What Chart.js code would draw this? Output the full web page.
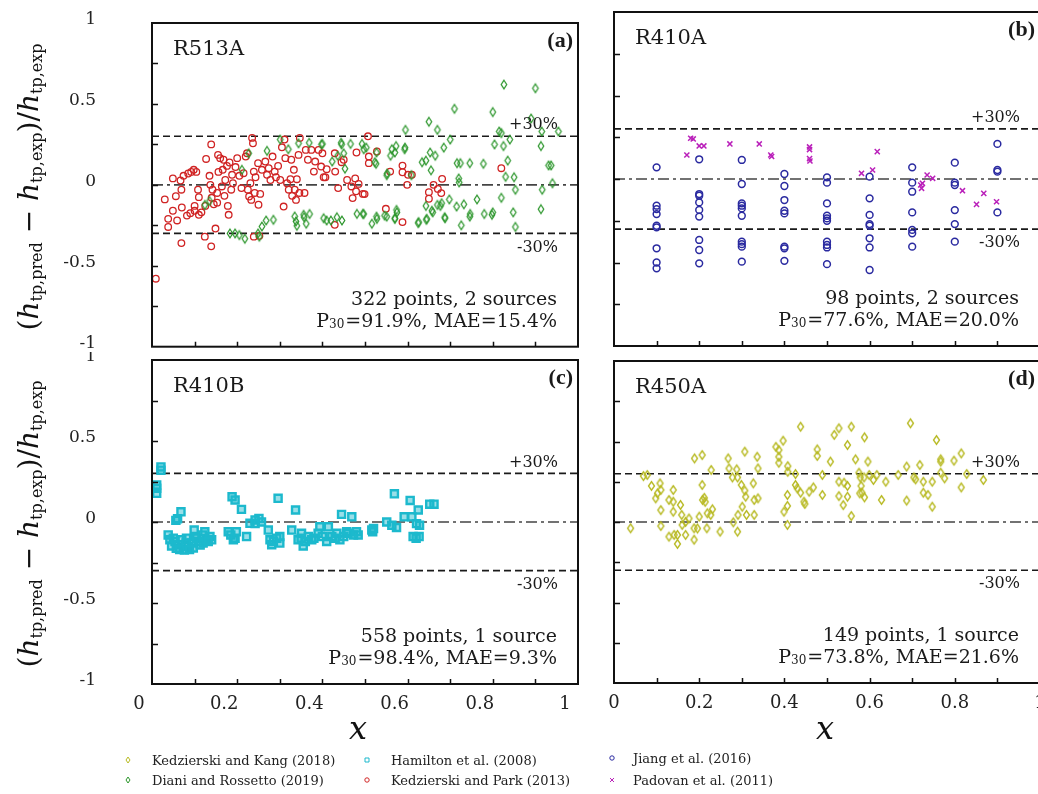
<!DOCTYPE html>
<html>
<head>
<meta charset="utf-8">
<script src="https://cdn.jsdelivr.net/npm/chart.js@4.4.1/dist/chart.umd.min.js"></script>
<style>
  html, body { margin: 0; padding: 0; background: #fff; overflow: hidden; }
  #wrap { position: relative; width: 1038px; height: 794px; overflow: hidden; background: #fff; }
  canvas.panel { position: absolute; }
  .ytitle {
    position: absolute; white-space: nowrap; color: #111;
    font-family: "DejaVu Serif", serif; font-size: 28px; line-height: 1;
    transform: translate(-50%, -50%) rotate(-90deg);
  }
  .ytitle i { font-style: italic; }
  .ytitle sub { font-size: 16px; font-style: normal; vertical-align: -0.3em; }
  .xtitle {
    position: absolute; transform: translate(-50%, -50%);
    font-family: "DejaVu Serif", serif; font-style: italic; font-size: 32px; color: #111;
  }
  .leg { position: absolute; font-family: "DejaVu Serif", serif; font-size: 13px; color: #222;
         white-space: nowrap; transform: translateY(-50%); }
  .legmark { position: absolute; transform: translate(-50%, -50%); }
</style>
</head>
<body>
<div id="wrap">
  <canvas id="pa" class="panel" width="548" height="352" style="left:40px;top:0px"></canvas>
  <canvas id="pb" class="panel" width="460" height="352" style="left:590px;top:0px"></canvas>
  <canvas id="pc" class="panel" width="548" height="390" style="left:40px;top:352px"></canvas>
  <canvas id="pd" class="panel" width="460" height="390" style="left:590px;top:352px"></canvas>

  <div class="ytitle" style="left:30px;top:187px">(<i>h</i><sub>tp,pred</sub> − <i>h</i><sub>tp,exp</sub>)/<i>h</i><sub>tp,exp</sub></div>
  <div class="ytitle" style="left:30px;top:524px">(<i>h</i><sub>tp,pred</sub> − <i>h</i><sub>tp,exp</sub>)/<i>h</i><sub>tp,exp</sub></div>
  <div class="xtitle" style="left:358px;top:728px">x</div>
  <div class="xtitle" style="left:825px;top:728px">x</div>
  <div id="legend"></div>
</div>

<script>
// ---------- data: [x, relative deviation] ----------
// R513A, Kedzierski and Park (2013)
const kedzierskiPark2013 = [
  [0.009,-0.58],[0.03,-0.09],[0.038,-0.21],[0.038,-0.26],[0.049,0.04],[0.049,-0.16],[0.056,-0.07],[0.059,-0.22],
  [0.067,0.027],[0.069,-0.36],[0.069,-0.03],[0.07,-0.14],[0.074,0.056],[0.082,-0.19],[0.085,0.07],[0.09,-0.175],
  [0.092,0.08],[0.098,0.093],[0.1,-0.13],[0.1,-0.16],[0.104,0.08],[0.108,-0.03],[0.11,-0.076],[0.11,-0.185],
  [0.116,-0.17],[0.124,-0.32],[0.125,-0.13],[0.127,0.16],[0.135,0.056],[0.137,0.0],[0.139,0.25],[0.139,-0.38],
  [0.14,-0.08],[0.142,-0.03],[0.145,-0.12],[0.149,-0.27],[0.153,-0.05],[0.153,-0.11],[0.155,0.185],[0.156,0.08],
  [0.16,0.165],[0.164,-0.01],[0.166,0.093],[0.168,0.155],[0.17,-0.068],[0.172,0.03],[0.176,0.117],[0.178,-0.13],
  [0.18,-0.185],[0.182,0.138],[0.186,-0.03],[0.188,0.062],[0.19,0.01],[0.196,0.11],[0.2,0.165],[0.205,0.056],
  [0.21,-0.02],[0.215,0.072],[0.22,0.175],[0.223,0.195],[0.225,-0.03],[0.228,-0.072],[0.231,0.01],[0.233,-0.093],
  [0.235,0.29],[0.237,0.257],[0.239,-0.32],[0.239,0.082],[0.241,-0.05],[0.243,0.047],[0.249,0.134],[0.25,-0.123],
  [0.252,-0.315],[0.254,-0.056],[0.258,0.093],[0.266,0.144],[0.27,0.062],[0.274,0.103],[0.278,0.03],[0.283,0.175],
  [0.288,0.082],[0.291,0.047],[0.296,0.117],[0.301,0.03],[0.305,0.232],[0.309,-0.134],[0.311,0.28],[0.313,0.165],
  [0.317,0.01],[0.321,-0.03],[0.325,0.035],[0.327,0.155],[0.329,-0.068],[0.333,0.093],[0.335,-0.03],[0.338,-0.093],
  [0.34,0.035],[0.344,0.185],[0.346,-0.05],[0.347,0.29],[0.358,-0.05],[0.361,0.216],[0.366,0.155],[0.374,0.216],
  [0.38,0.082],[0.383,0.144],[0.391,0.216],[0.397,0.113],[0.4,0.195],[0.403,0.047],[0.407,0.047],[0.41,0.097],
  [0.429,0.195],[0.429,-0.247],[0.43,0.082],[0.437,-0.02],[0.445,0.14],[0.45,0.155],[0.458,0.03],[0.468,-0.01],
  [0.471,-0.082],[0.477,0.04],[0.479,-0.04],[0.48,0.2],[0.485,0.006],[0.495,-0.056],[0.507,0.3],[0.528,0.206],
  [0.509,0.175],[0.509,0.134],[0.499,-0.057],[0.559,0.082],[0.588,0.119],[0.588,0.078],[0.601,0.062],[0.61,0.062],
  [0.599,0.0],[0.549,-0.148],[0.588,-0.23],[0.681,0.037],[0.661,0.0],[0.671,-0.025],[0.65,-0.045],[0.679,-0.051],
  [0.65,-0.086],[0.82,0.103]
];
// R513A, Diani and Rossetto (2019)
const dianiRossetto2019 = [
  [0.124,-0.124],[0.135,-0.1],[0.183,-0.3],[0.195,-0.3],[0.205,-0.31],[0.218,-0.333],[0.249,-0.3],[0.252,-0.32],
  [0.258,-0.257],[0.268,-0.22],[0.285,-0.216],[0.211,0.093],[0.227,0.195],[0.27,0.21],[0.301,0.28],[0.32,0.22],
  [0.335,-0.195],[0.338,-0.226],[0.34,-0.253],[0.356,-0.185],[0.344,0.257],[0.369,0.26],[0.4,0.253],[0.403,-0.206],
  [0.423,0.144],[0.434,-0.2],[0.444,0.26],[0.446,-0.22],[0.45,0.195],[0.466,0.253],[0.481,-0.179],[0.495,-0.179],
  [0.493,0.253],[0.497,-0.18],[0.497,0.22],[0.516,-0.24],[0.528,-0.21],[0.546,-0.19],[0.526,0.13],[0.552,0.07],
  [0.57,0.2],[0.563,0.22],[0.593,0.22],[0.575,-0.17],[0.57,-0.21],[0.595,0.34],[0.594,0.23],[0.626,-0.23],
  [0.643,-0.13],[0.645,-0.21],[0.657,-0.16],[0.677,-0.13],[0.687,-0.2],[0.634,0.14],[0.643,0.15],[0.655,0.09],
  [0.653,0.2],[0.65,0.39],[0.665,0.18],[0.67,0.34],[0.685,0.23],[0.7,0.28],[0.698,-0.09],[0.71,0.47],
  [0.716,0.134],[0.724,0.134],[0.746,0.134],[0.72,0.04],[0.721,0.015],[0.732,-0.12],[0.726,-0.25],[0.747,-0.18],
  [0.763,-0.09],[0.778,0.13],[0.78,-0.18],[0.8,0.45],[0.8,-0.17],[0.804,0.25],[0.815,0.33],[0.82,0.32],
  [0.825,0.24],[0.82,-0.08],[0.826,0.62],[0.835,0.15],[0.84,0.28],[0.83,0.05],[0.85,0.047],[0.853,-0.03],
  [0.853,-0.26],[0.89,0.41],[0.9,0.597],[0.913,-0.15],[0.913,0.24],[0.915,0.33],[0.916,-0.03],[0.931,0.12],
  [0.937,0.12],[0.94,0.01],[0.954,0.33],[0.848,-0.17],[0.798,-0.185],[0.746,-0.196],[0.715,-0.134],[0.688,-0.206],
  [0.67,-0.124],[0.68,-0.113],[0.659,-0.17],[0.644,-0.216],[0.625,-0.236],[0.57,-0.206],[0.574,-0.155],[0.551,-0.196],
  [0.527,-0.196],[0.573,0.24],[0.56,0.18],[0.551,0.06],[0.609,0.06],[0.523,0.14],[0.527,0.2],[0.503,0.23],
  [0.445,0.25],[0.453,0.1],[0.436,0.18],[0.398,0.25],[0.357,-0.2],[0.362,-0.24],[0.37,-0.18],[0.41,-0.22],[0.42,-0.22]
];
// R410A, Jiang et al. (2016)
const jiang2016 = [
  [0.1,0.07],[0.1,-0.16],[0.1,-0.18],[0.1,-0.21],[0.1,-0.28],[0.1,-0.29],[0.1,-0.415],[0.1,-0.5],[0.1,-0.535],
  [0.2,0.118],[0.2,-0.09],[0.2,-0.1],[0.2,-0.14],[0.2,-0.185],[0.2,-0.225],[0.2,-0.365],[0.2,-0.425],[0.2,-0.505],
  [0.3,0.114],[0.3,-0.03],[0.3,-0.146],[0.3,-0.16],[0.3,-0.176],[0.3,-0.22],[0.3,-0.375],[0.3,-0.39],[0.3,-0.405],[0.3,-0.495],
  [0.4,0.03],[0.4,-0.042],[0.4,-0.126],[0.4,-0.19],[0.4,-0.206],[0.4,-0.405],[0.4,-0.415],[0.4,-0.49],
  [0.5,0.01],[0.5,-0.022],[0.5,-0.146],[0.5,-0.22],[0.5,-0.236],[0.5,-0.25],[0.5,-0.375],[0.5,-0.395],[0.5,-0.41],[0.5,-0.51],
  [0.6,0.014],[0.6,-0.116],[0.6,-0.215],[0.6,-0.27],[0.6,-0.28],[0.6,-0.355],[0.6,-0.41],[0.6,-0.545],
  [0.7,0.07],[0.7,-0.022],[0.7,-0.076],[0.7,-0.2],[0.7,-0.305],[0.7,-0.325],[0.7,-0.405],
  [0.8,0.098],[0.8,-0.022],[0.8,-0.036],[0.8,-0.186],[0.8,-0.27],[0.8,-0.375],
  [0.9,0.21],[0.9,0.054],[0.9,0.044],[0.9,-0.2]
];
// R410A, Padovan et al. (2011)
const padovan2011 = [
  [0.171,0.144],[0.18,0.244],[0.186,0.24],[0.2,0.198],[0.211,0.198],[0.272,0.21],[0.341,0.21],[0.368,0.144],
  [0.37,0.135],[0.459,0.192],[0.459,0.176],[0.459,0.122],[0.46,0.108],[0.581,0.034],[0.607,0.054],[0.618,0.164],
  [0.72,-0.036],[0.722,-0.056],[0.724,-0.026],[0.735,0.024],[0.748,0.004],[0.818,-0.07],[0.851,-0.152],
  [0.868,-0.086],[0.898,-0.136]
];
// R410B, Hamilton et al. (2008)
const hamilton2008 = [
  [0.021,0.34],[0.021,0.32],[0.011,0.228],[0.011,0.208],[0.011,0.177],[0.038,-0.08],[0.042,-0.11],[0.046,-0.148],
  [0.054,-0.12],[0.057,-0.162],[0.056,0.01],[0.068,0.063],[0.07,-0.11],[0.076,-0.173],[0.081,-0.1],[0.085,-0.15],
  [0.093,-0.13],[0.097,-0.16],[0.099,-0.05],[0.101,-0.09],[0.109,-0.12],[0.113,-0.142],[0.124,-0.06],[0.128,-0.11],
  [0.136,-0.09],[0.14,-0.11],[0.179,-0.06],[0.188,0.156],[0.191,-0.11],[0.195,0.136],[0.198,-0.06],[0.21,0.078],
  [0.222,-0.09],[0.23,-0.008],[0.242,0.012],[0.251,0.022],[0.257,0.0],[0.273,-0.05],[0.277,-0.11],[0.281,-0.14],
  [0.293,-0.1],[0.296,0.146],[0.3,-0.09],[0.328,-0.05],[0.337,0.074],[0.343,-0.11],[0.351,-0.07],[0.355,-0.148],
  [0.367,-0.09],[0.375,-0.11],[0.39,-0.07],[0.394,-0.03],[0.41,-0.12],[0.414,-0.03],[0.422,-0.09],[0.434,-0.07],
  [0.441,-0.11],[0.445,0.047],[0.457,-0.06],[0.469,0.032],[0.473,-0.08],[0.484,-0.08],[0.516,-0.05],[0.52,-0.04],
  [0.551,0.0],[0.569,0.174],[0.563,-0.02],[0.574,-0.034],[0.592,0.032],[0.606,0.133],[0.61,0.032],[0.613,-0.09],
  [0.621,-0.01],[0.625,0.074],[0.627,-0.09],[0.628,-0.02],[0.652,0.11],[0.662,0.11],
  [0.05,-0.1],[0.062,-0.14],[0.065,-0.17],[0.08,-0.13],[0.088,-0.17],[0.105,-0.1],[0.118,-0.08],[0.12,-0.13],
  [0.132,-0.12],[0.185,-0.08],[0.195,-0.1],[0.3,-0.13],[0.285,-0.12],[0.35,-0.1],[0.36,-0.12],[0.38,-0.1],
  [0.4,-0.09],[0.43,-0.1],[0.46,-0.07],[0.48,-0.06],[0.45,-0.09],[0.518,-0.06],[0.242,-0.01],[0.62,-0.1],[0.06,0.02]
];
// R450A, Kedzierski and Kang (2018)
const kedzierskiKang2018 = [
  [0.039,-0.039],[0.069,0.285],[0.078,0.292],[0.088,0.224],[0.098,0.147],[0.102,0.178],[0.108,0.24],[0.11,0.199],
  [0.11,0.074],[0.11,-0.025],[0.129,0.137],[0.129,-0.091],[0.139,0.199],[0.139,0.126],[0.139,0.064],[0.141,-0.08],
  [0.149,-0.136],[0.149,-0.08],[0.156,0.106],[0.159,0.044],[0.16,-0.018],[0.168,-0.08],[0.168,0.0],[0.176,0.022],
  [0.188,-0.11],[0.188,-0.039],[0.189,0.395],[0.196,-0.04],[0.2,0.033],[0.207,0.416],[0.207,0.23],[0.208,0.137],
  [0.212,0.15],[0.214,0.125],[0.218,-0.039],[0.219,0.054],[0.227,0.044],[0.228,0.323],[0.231,0.079],[0.249,-0.06],
  [0.268,0.395],[0.27,0.333],[0.278,0.277],[0.28,-0.002],[0.288,0.327],[0.29,0.277],[0.29,-0.06],[0.291,0.044],
  [0.299,0.23],[0.301,0.095],[0.307,0.195],[0.307,0.437],[0.309,0.157],[0.311,0.044],[0.327,0.24],[0.329,0.137],
  [0.329,0.044],[0.336,0.405],[0.338,0.333],[0.338,0.147],[0.38,0.467],[0.387,0.447],[0.387,0.405],[0.387,0.368],
  [0.397,0.505],[0.399,0.064],[0.407,-0.018],[0.407,0.168],[0.407,0.1],[0.408,0.347],[0.408,0.312],[0.426,0.298],
  [0.426,0.23],[0.43,0.21],[0.438,0.592],[0.438,0.182],[0.446,0.126],[0.448,0.112],[0.458,0.188],[0.468,0.215],
  [0.477,0.451],[0.477,0.41],[0.489,0.292],[0.489,0.168],[0.508,0.375],[0.517,0.541],[0.528,0.582],[0.557,0.592],
  [0.548,0.478],[0.588,0.526],[0.567,0.389],[0.596,0.375],[0.528,0.25],[0.54,0.244],[0.548,0.224],[0.528,0.161],
  [0.548,0.157],[0.538,0.105],[0.557,0.037],[0.575,0.306],[0.578,0.277],[0.58,0.224],[0.582,0.182],[0.577,0.178],
  [0.588,0.153],[0.587,0.277],[0.599,0.292],[0.609,0.261],[0.617,0.292],[0.638,0.25],[0.628,0.137],[0.667,0.292],
  [0.687,0.344],[0.687,0.133],[0.696,0.613],[0.704,0.277],[0.708,0.265],[0.718,0.354],[0.726,0.25],[0.726,0.182],
  [0.737,0.168],[0.747,0.25],[0.747,0.095],[0.757,0.509],[0.767,0.389],[0.767,0.375],[0.767,0.306],[0.776,0.271],
  [0.798,0.381],[0.815,0.426],[0.815,0.215],[0.828,0.298],[0.867,0.261]
];

// axis ticks and reference bands
const xTickValues = [0, 0.2, 0.4, 0.6, 0.8, 1];
const yTickValues = [-1, -0.5, 0, 0.5, 1];
const bandLimit = 0.3;

// ---------- marker glyphs ----------
const COL = {
  kang: 'rgb(184,186,36)', diani: 'rgb(44,150,44)', hamilton: 'rgb(28,185,205)',
  park: 'rgb(208,36,36)', jiang: 'rgb(42,42,160)', padovan: 'rgb(186,32,186)'
};
function thinDiamond(color, w, h, lw) {
  const c = document.createElement('canvas');
  c.width = Math.ceil(w + lw * 2 + 2); c.height = Math.ceil(h + lw * 2 + 2);
  const g = c.getContext('2d');
  const cx = c.width / 2, cy = c.height / 2;
  g.strokeStyle = color; g.lineWidth = lw; g.lineJoin = 'miter';
  g.beginPath();
  g.moveTo(cx, cy - h / 2); g.lineTo(cx + w / 2, cy); g.lineTo(cx, cy + h / 2); g.lineTo(cx - w / 2, cy);
  g.closePath(); g.stroke();
  return c;
}
const diamondGreen = thinDiamond(COL.diani, 5.5, 8.5, 1.25);
const diamondYellow = thinDiamond(COL.kang, 6, 8.5, 1.35);

const pts = arr => arr.map(([x, y]) => ({ x, y }));

function refLines() {
  const line = (y, dash, color) => ({
    data: [{ x: 0, y }, { x: 1, y }], showLine: true, pointRadius: 0,
    borderColor: color, borderWidth: 1.6, borderDash: dash, order: 20
  });
  return [line(bandLimit, [7, 4], '#1a1a1a'), line(-bandLimit, [7, 4], '#1a1a1a'), line(0, [11, 4, 3, 4], '#444')];
}

const fmtNum = v => String(parseFloat(v.toFixed(2)));
const isIn = (v, list) => list.some(t => Math.abs(t - v) < 1e-6);

// frame, inward ticks and panel annotations
const panelDecor = {
  id: 'panelDecor',
  afterDraw(chart, args, o) {
    const { ctx, chartArea: a } = chart;
    const xs = chart.scales.x, ys = chart.scales.y;
    ctx.save();
    ctx.strokeStyle = '#111';
    ctx.lineWidth = 1.5;
    ctx.beginPath();
    xs.ticks.forEach(t => {
      const p = Math.round(xs.getPixelForValue(t.value)) + 0.5;
      if (p > a.left + 2 && p < a.right - 2) { ctx.moveTo(p, a.bottom); ctx.lineTo(p, a.bottom - 5); }
    });
    ys.ticks.forEach(t => {
      const p = Math.round(ys.getPixelForValue(t.value)) + 0.5;
      if (p > a.top + 2 && p < a.bottom - 2) { ctx.moveTo(a.left, p); ctx.lineTo(a.left + 6, p); }
    });
    ctx.stroke();
    ctx.lineWidth = 2;
    ctx.strokeRect(a.left, a.top, a.right - a.left, a.bottom - a.top);

    ctx.fillStyle = '#1a1a1a';
    ctx.textBaseline = 'middle';
    // refrigerant name
    ctx.font = '21px "DejaVu Serif"';
    ctx.textAlign = 'left';
    ctx.fillText(o.name, a.left + 21, a.top + 27);
    // panel tag
    ctx.font = 'bold 22px "Liberation Serif"';
    ctx.textAlign = 'right';
    ctx.fillText(o.tag, a.right - 5, a.top + 18);
    // band labels
    ctx.font = '16px "DejaVu Serif"';
    ctx.fillText('+30%', a.right - 20, ys.getPixelForValue(bandLimit) - 11);
    ctx.fillText('-30%', a.right - 20, ys.getPixelForValue(-bandLimit) + 14);
    // statistics
    ctx.font = '19px "DejaVu Serif"';
    ctx.fillText(o.line1, a.right - 21, a.bottom - 47);
    const big = '19px "DejaVu Serif"', small = '12px "DejaVu Serif"';
    const rest = '=' + o.p30 + ', MAE=' + o.mae;
    ctx.font = big; const wP = ctx.measureText('P').width, wR = ctx.measureText(rest).width;
    ctx.font = small; const wS = ctx.measureText('30').width;
    let x0 = a.right - 21 - (wP + wS + wR + 1);
    const yb = a.bottom - 25;
    ctx.textAlign = 'left';
    ctx.font = big; ctx.fillText('P', x0, yb);
    ctx.font = small; ctx.fillText('30', x0 + wP, yb + 3);
    ctx.font = big; ctx.fillText(rest, x0 + wP + wS + 1, yb);
    ctx.restore();
  }
};

function makePanel(id, cfg) {
  return new Chart(document.getElementById(id), {
    type: 'scatter',
    data: { datasets: [...cfg.series, ...refLines()] },
    options: {
      responsive: false, animation: false, events: [],
      layout: { padding: cfg.pad },
      plugins: { legend: { display: false }, tooltip: { enabled: false }, panelDecor: cfg.text },
      scales: {
        x: {
          type: 'linear', min: 0, max: 1,
          grid: { display: false, drawTicks: false }, border: { display: false },
          ticks: {
            stepSize: 0.1, autoSkip: false, display: cfg.xLabels, padding: 10, labelOffset: cfg.xOff,
            maxRotation: 0, font: { family: 'DejaVu Serif', size: 18 }, color: '#222',
            callback: v => isIn(v, xTickValues) ? fmtNum(v) : ''
          },
          // fixed axis band; the plot area is set by the layout padding alone
          afterFit: s => { s.height = cfg.xh; s.paddingLeft = 0; s.paddingRight = 0; }
        },
        y: {
          type: 'linear', min: -1, max: 1,
          grid: { display: false, drawTicks: false }, border: { display: false },
          ticks: {
            stepSize: 0.25, autoSkip: false, display: cfg.yLabels, padding: 56, labelOffset: -3,
            font: { family: 'DejaVu Serif', size: 17 }, color: '#222',
            callback: v => isIn(v, yTickValues) ? fmtNum(v) : ''
          },
          afterFit: s => { s.width = cfg.yw; s.paddingTop = 0; s.paddingBottom = 0; }
        }
      }
    },
    plugins: [panelDecor]
  });
}

makePanel('pa', {
  pad: { top: 23, right: 10, bottom: 5, left: 0 }, xh: 0, yw: 112, xLabels: false, yLabels: true, xOff: 0,
  text: { name: 'R513A', tag: '(a)', line1: '322 points, 2 sources', p30: '91.9%', mae: '15.4%' },
  series: [
    { data: pts(kedzierskiPark2013), pointStyle: 'circle', pointRadius: 3.3, borderWidth: 1.3,
      borderColor: COL.park, backgroundColor: 'rgba(0,0,0,0)', order: 2 },
    { data: pts(dianiRossetto2019), pointStyle: diamondGreen, order: 1 }
  ]
});
makePanel('pb', {
  pad: { top: 12, right: 10, bottom: 6, left: 0 }, xh: 0, yw: 24, xLabels: false, yLabels: false, xOff: 0,
  text: { name: 'R410A', tag: '(b)', line1: '98 points, 2 sources', p30: '77.6%', mae: '20.0%' },
  series: [
    { data: pts(jiang2016), pointStyle: 'circle', pointRadius: 3.4, borderWidth: 1.5,
      borderColor: COL.jiang, backgroundColor: 'rgba(0,0,0,0)', order: 2 },
    { data: pts(padovan2011), pointStyle: 'crossRot', pointRadius: 3.6, borderWidth: 1.5,
      borderColor: COL.padovan, order: 1 }
  ]
});
makePanel('pc', {
  pad: { top: 8, right: 10, bottom: 0, left: 0 }, xh: 58, yw: 112, xLabels: true, yLabels: true, xOff: -13,
  text: { name: 'R410B', tag: '(c)', line1: '558 points, 1 source', p30: '98.4%', mae: '9.3%' },
  series: [
    { data: pts(hamilton2008), pointStyle: 'rect', pointRadius: 5, borderWidth: 2.4,
      borderColor: COL.hamilton, backgroundColor: 'rgba(28,185,205,0.45)', order: 1 }
  ]
});
makePanel('pd', {
  pad: { top: 9, right: 10, bottom: 0, left: 0 }, xh: 59, yw: 24, xLabels: true, yLabels: false, xOff: 0,
  text: { name: 'R450A', tag: '(d)', line1: '149 points, 1 source', p30: '73.8%', mae: '21.6%' },
  series: [ { data: pts(kedzierskiKang2018), pointStyle: diamondYellow, order: 1 } ]
});

// ---------- legend ----------
const legendItems = [
  { label: 'Kedzierski and Kang (2018)', kind: 'diamond', color: COL.kang, mx: 128, tx: 152, y: 760 },
  { label: 'Hamilton et al. (2008)', kind: 'square', color: COL.hamilton, mx: 367, tx: 391, y: 760 },
  { label: 'Jiang et al. (2016)', kind: 'circle', color: COL.jiang, mx: 612, tx: 633, y: 758 },
  { label: 'Diani and Rossetto (2019)', kind: 'diamond', color: COL.diani, mx: 128, tx: 152, y: 780 },
  { label: 'Kedzierski and Park (2013)', kind: 'circle', color: COL.park, mx: 367, tx: 391, y: 780 },
  { label: 'Padovan et al. (2011)', kind: 'cross', color: COL.padovan, mx: 612, tx: 633, y: 780 }
];
const legendBox = document.getElementById('legend');
legendItems.forEach(it => {
  const c = document.createElement('canvas');
  c.width = 10; c.height = 10; c.className = 'legmark';
  c.style.left = it.mx + 'px'; c.style.top = it.y + 'px';
  const g = c.getContext('2d');
  g.strokeStyle = it.color; g.lineWidth = 1;
  g.beginPath();
  if (it.kind === 'diamond') { g.moveTo(5, 2); g.lineTo(7, 5); g.lineTo(5, 8); g.lineTo(3, 5); g.closePath(); }
  else if (it.kind === 'square') { g.rect(3, 3, 4, 4); }
  else if (it.kind === 'circle') { g.arc(5, 5, 2.2, 0, Math.PI * 2); }
  else { g.moveTo(3, 3); g.lineTo(7, 7); g.moveTo(7, 3); g.lineTo(3, 7); }
  g.stroke();
  legendBox.appendChild(c);
  const t = document.createElement('div');
  t.className = 'leg'; t.textContent = it.label;
  t.style.left = it.tx + 'px'; t.style.top = it.y + 'px';
  legendBox.appendChild(t);
});
</script>
</body>
</html>
